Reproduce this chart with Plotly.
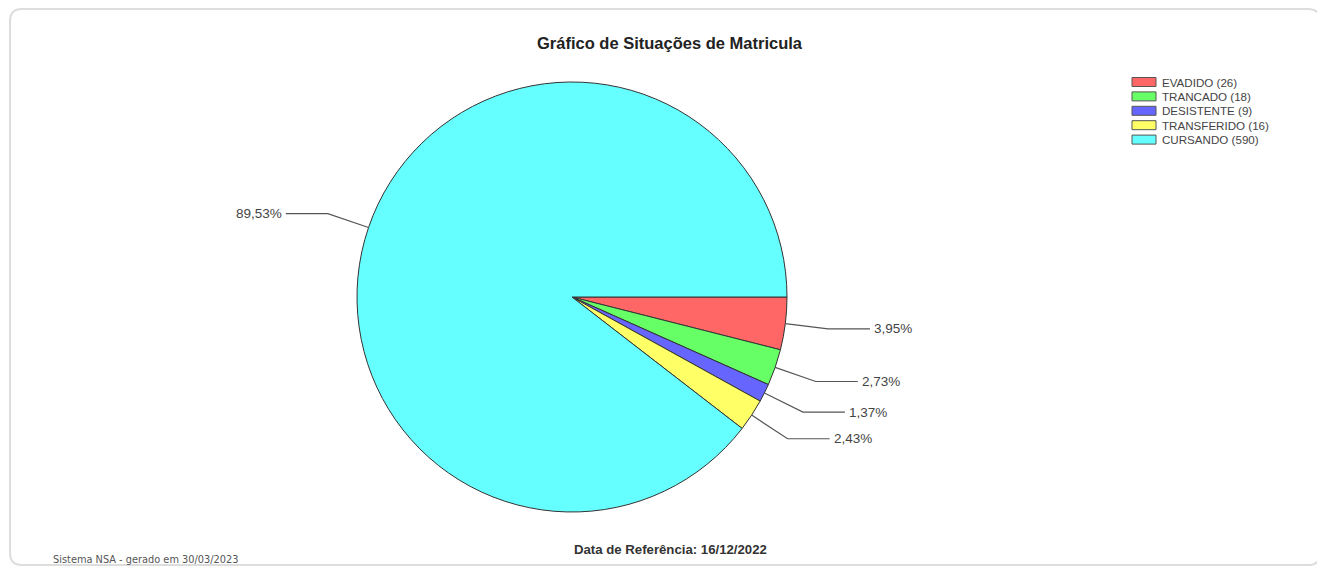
import math
import plotly.graph_objects as go

# ---- data ----
categories = ["EVADIDO", "TRANCADO", "DESISTENTE", "TRANSFERIDO", "CURSANDO"]
counts = [26, 18, 9, 16, 590]
colors = ["#FF6666", "#66FF66", "#6666FF", "#FFFF66", "#66FFFF"]
title_text = "Gráfico de Situações de Matricula"
ref_text = "Data de Referência: 16/12/2022"
footer_text = "Sistema NSA - gerado em 30/03/2023"

W, H = 1325, 574
OFF = 8  # page body margin
FW, FH = W - 2 * OFF, H - 2 * OFF
CX, CY, R = 572, 297, 215


def px(x):
    return (x - OFF) / FW


def py(y):
    return 1 - (y - OFF) / FH


total = sum(counts)
fig = go.Figure()
fig.add_trace(go.Pie(
    labels=categories,
    values=counts,
    marker=dict(colors=colors, line=dict(color="#333333", width=1)),
    sort=False,
    direction="clockwise",
    rotation=90,
    textinfo="none",
    hoverinfo="label+value+percent",
    showlegend=False,
    domain=dict(x=[px(CX - R), px(CX + R)], y=[py(CY + R), py(CY - R)]),
))

shapes = []
annotations = []

# leader lines and percentage labels
cum = 0.0
for name, v in zip(categories, counts):
    frac = v / total
    mid = (cum + frac / 2) * 2 * math.pi
    cum += frac
    ca, sa = math.cos(mid), math.sin(mid)
    x0, y0 = CX + R * ca, CY + R * sa
    x1, y1 = CX + R * 1.2 * ca, CY + R * 1.2 * sa
    side = 1 if ca >= 0 else -1
    x2 = x1 + side * 42
    shapes.append(dict(
        type="path", xref="paper", yref="paper",
        path=f"M{px(x0)},{py(y0)} L{px(x1)},{py(y1)} L{px(x2)},{py(y1)}",
        line=dict(color="#555555", width=1.2),
    ))
    label = f"{frac * 100:.2f}".replace(".", ",") + "%"
    annotations.append(dict(
        x=px(x2 + side * 2), y=py(y1), xref="paper", yref="paper",
        text=label, showarrow=False,
        xanchor="left" if side > 0 else "right", yanchor="middle",
        font=dict(family="Liberation Sans, Arial, sans-serif", size=13.5, color="#444444"),
    ))

# custom legend
LX, LY, LSTEP = 1132, 77.5, 14.4
for i, (name, v, c) in enumerate(zip(categories, counts, colors)):
    top = LY + i * LSTEP
    shapes.append(dict(
        type="rect", xref="paper", yref="paper",
        x0=px(LX), x1=px(LX + 24), y0=py(top + 9), y1=py(top),
        fillcolor=c, line=dict(color="#555555", width=1),
    ))
    annotations.append(dict(
        x=px(LX + 28), y=py(top + 4.5), xref="paper", yref="paper",
        text=f"{name} ({v})", showarrow=False, xanchor="left", yanchor="middle",
        font=dict(family="Liberation Sans, Arial, sans-serif", size=11.6, color="#444444"),
    ))

# container border (rounded rect)
bx0, by0, bx1, by1, rr = 10, 9, 1320, 565, 12
path = (f"M{px(bx0 + rr)},{py(by0)} L{px(bx1 - rr)},{py(by0)} "
        f"Q{px(bx1)},{py(by0)} {px(bx1)},{py(by0 + rr)} "
        f"L{px(bx1)},{py(by1 - rr)} Q{px(bx1)},{py(by1)} {px(bx1 - rr)},{py(by1)} "
        f"L{px(bx0 + rr)},{py(by1)} Q{px(bx0)},{py(by1)} {px(bx0)},{py(by1 - rr)} "
        f"L{px(bx0)},{py(by0 + rr)} Q{px(bx0)},{py(by0)} {px(bx0 + rr)},{py(by0)} Z")
shapes.append(dict(type="path", xref="paper", yref="paper", path=path,
                   line=dict(color="#dddddd", width=2), layer="below"))

# texts
annotations.append(dict(
    x=px(670), y=py(43), xref="paper", yref="paper", text=f"<b>{title_text}</b>",
    showarrow=False, xanchor="center", yanchor="middle",
    font=dict(family="Liberation Sans, Arial, sans-serif", size=16.5, color="#222222"),
))
annotations.append(dict(
    x=px(671), y=py(549), xref="paper", yref="paper", text=f"<b>{ref_text}</b>",
    showarrow=False, xanchor="center", yanchor="middle",
    font=dict(family="Liberation Sans, Arial, sans-serif", size=13.2, color="#333333"),
))
annotations.append(dict(
    x=px(51), y=py(559), xref="paper", yref="paper", text=footer_text,
    showarrow=False, xanchor="left", yanchor="middle",
    font=dict(family="DejaVu Sans, sans-serif", size=9.8, color="#555555"),
))

fig.update_layout(
    width=FW, height=FH,
    margin=dict(l=0, r=0, t=0, b=0),
    paper_bgcolor="white", plot_bgcolor="white",
    shapes=shapes, annotations=annotations,
    showlegend=False,
)
fig.write_html("out.html")
